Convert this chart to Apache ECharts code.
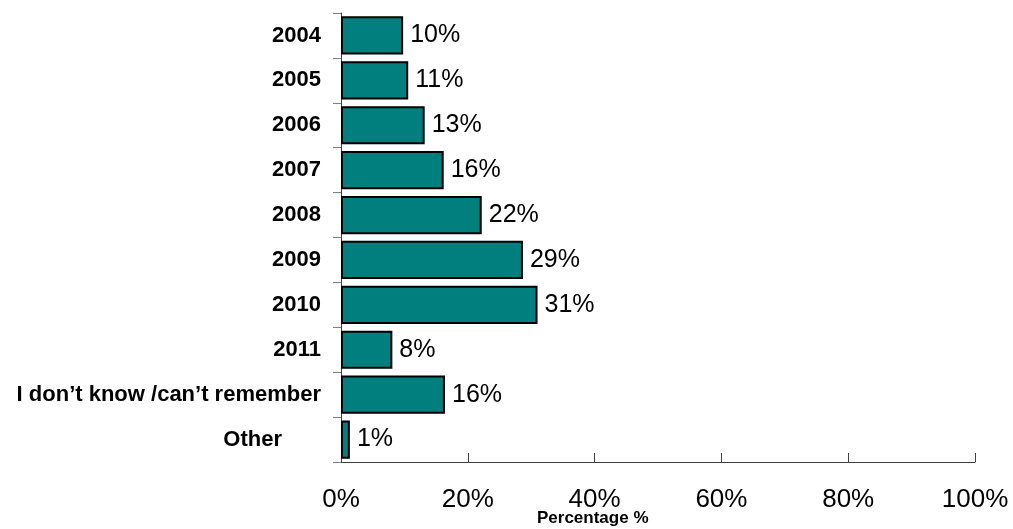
<!DOCTYPE html>
<html><head><meta charset="utf-8">
<script src="https://cdn.jsdelivr.net/npm/echarts@6/dist/echarts.min.js"></script>
<style>html,body{margin:0;padding:0;background:#fff}#c{width:1013px;height:529px}</style>
</head><body><div id="c"></div>
<script>
const categories = ['2004','2005','2006','2007','2008','2009','2010','2011','I don\u2019t know /can\u2019t remember','Other'];
const values = [9.8, 10.6, 13.2, 16.2, 22.2, 28.7, 31.0, 8.1, 16.4, 1.4];
const xTicks = [0, 20, 40, 60, 80, 100];
const axisTitle = 'Percentage %';
const FONT = 'Arial, "Liberation Sans", sans-serif';

const chart = echarts.init(document.getElementById('c'));
chart.setOption({
  animation: false,
  backgroundColor: '#fff',
  grid: { left: 341, right: 38, top: 13, bottom: 67 },
  xAxis: {
    type: 'value', min: xTicks[0], max: xTicks[xTicks.length-1], interval: 20,
    axisLine: { show: true, lineStyle: { color: '#404040', width: 1 } },
    axisTick: { show: true, inside: true, length: 9, lineStyle: { color: '#404040' } },
    splitLine: { show: false },
    axisLabel: { formatter: v => v + '%', fontFamily: FONT, fontSize: 26, color: '#000', margin: 25 }
  },
  yAxis: {
    type: 'category', inverse: true, data: categories,
    axisLine: { show: true, lineStyle: { color: '#404040' } },
    axisTick: { show: true, length: 8, lineStyle: { color: '#808080' } },
    axisLabel: {
      fontFamily: FONT, fontSize: 22, fontWeight: 'bold', color: '#000', margin: 20,
      formatter: v => v === 'Other' ? '{o|' + v + '}' : v,
      rich: { o: { fontFamily: FONT, fontSize: 22, fontWeight: 'bold', color: '#000', padding: [0, 39, 0, 0] } }
    }
  },
  series: [{
    type: 'bar', data: values, barCategoryGap: '15%',
    itemStyle: { color: '#007F7F', borderColor: '#000', borderWidth: 2 },
    label: { show: true, position: 'right', distance: 7, formatter: p => Math.round(p.value) + '%',
      fontFamily: FONT, fontSize: 25, color: '#000' }
  }],
  graphic: [{
    type: 'text', left: 593 - 56, top: 510,
    style: { text: axisTitle, font: 'bold 17px ' + FONT, fill: '#000' }
  }]
});
</script></body></html>
